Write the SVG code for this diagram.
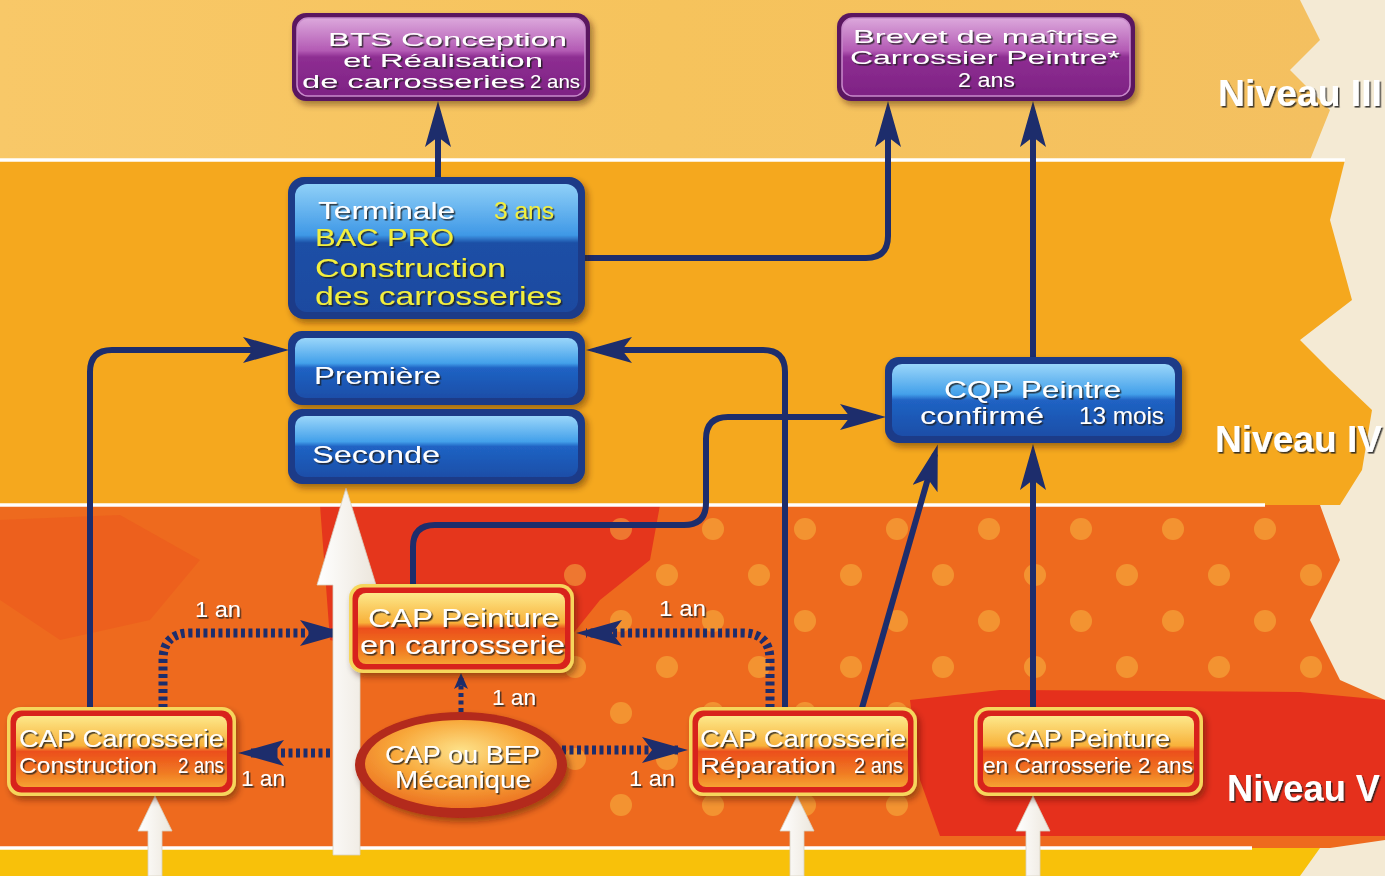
<svg xmlns="http://www.w3.org/2000/svg" width="1385" height="876" viewBox="0 0 1385 876">
<defs>
  <style>
    .t{font-family:"Liberation Sans",Arial,sans-serif;fill:#fff;filter:url(#ts)}
    .y{fill:#f3ef3e}
    .lvl{font-family:"Liberation Sans",Arial,sans-serif;font-weight:bold;fill:#fff;font-size:36px;filter:url(#ts)}
    .ln{fill:none;stroke:#1d2d6c;stroke-width:6;stroke-linecap:butt;stroke-linejoin:round}
    .dt{fill:none;stroke:#1d2d6c;stroke-width:9;stroke-dasharray:4 3.5}
    .wl{stroke:#fff;stroke-width:3.5}
    .wa{fill:url(#gWhite);stroke:#d8d0c0;stroke-width:0.8}
  </style>
  <filter id="ts" x="-10%" y="-30%" width="120%" height="160%">
    <feDropShadow dx="1.5" dy="1.6" stdDeviation="0.7" flood-color="#1a1a1a" flood-opacity="0.85"/>
  </filter>
  <filter id="ds" x="-10%" y="-20%" width="125%" height="150%">
    <feDropShadow dx="3" dy="4" stdDeviation="3" flood-color="#3a1a00" flood-opacity="0.45"/>
  </filter>
  <linearGradient id="gPurple" x1="0" y1="0" x2="0" y2="1">
    <stop offset="0" stop-color="#dca8dc"/>
    <stop offset="0.42" stop-color="#b35ab4"/>
    <stop offset="0.5" stop-color="#8e2e92"/>
    <stop offset="1" stop-color="#7e2284"/>
  </linearGradient>
  <linearGradient id="gBlueT" x1="0" y1="0" x2="0" y2="1">
    <stop offset="0" stop-color="#8fd0f8"/>
    <stop offset="0.4" stop-color="#3f98e6"/>
    <stop offset="0.46" stop-color="#1d4fa6"/>
    <stop offset="1" stop-color="#1b4aa0"/>
  </linearGradient>
  <linearGradient id="gBlue" x1="0" y1="0" x2="0" y2="1">
    <stop offset="0" stop-color="#9ad6fa"/>
    <stop offset="0.42" stop-color="#43a0ea"/>
    <stop offset="0.5" stop-color="#2063c4"/>
    <stop offset="1" stop-color="#1a4ea8"/>
  </linearGradient>
  <linearGradient id="gOr" x1="0" y1="0" x2="0" y2="1">
    <stop offset="0" stop-color="#fde88a"/>
    <stop offset="0.42" stop-color="#f8b13a"/>
    <stop offset="0.5" stop-color="#ec4f1c"/>
    <stop offset="0.8" stop-color="#f07a22"/>
    <stop offset="1" stop-color="#f6a232"/>
  </linearGradient>
  <radialGradient id="gEl" cx="0.5" cy="0.35" r="0.7">
    <stop offset="0" stop-color="#fde28a"/>
    <stop offset="0.5" stop-color="#f8a83a"/>
    <stop offset="1" stop-color="#ea6a1e"/>
  </radialGradient>
  <linearGradient id="gWhite" x1="0" y1="0" x2="1" y2="0">
    <stop offset="0" stop-color="#ffffff"/>
    <stop offset="1" stop-color="#ece6dc"/>
  </linearGradient>
  <linearGradient id="gTop" x1="0" y1="0" x2="1" y2="0">
    <stop offset="0" stop-color="#f8c868"/>
    <stop offset="0.5" stop-color="#f6c35c"/>
    <stop offset="1" stop-color="#f4c060"/>
  </linearGradient>
  <pattern id="dots" patternUnits="userSpaceOnUse" width="92" height="92">
    <circle cx="23" cy="23" r="11" fill="#f8c648"/>
    <circle cx="69" cy="69" r="11" fill="#f8c648"/>
  </pattern>
  <marker id="ah" markerUnits="userSpaceOnUse" markerWidth="46" markerHeight="28" refX="36" refY="13" orient="auto">
    <path d="M0,0 L46,13 L0,26 L10,13 Z" fill="#1d2d6c"/>
  </marker>
  <marker id="ahs" markerUnits="userSpaceOnUse" markerWidth="16" markerHeight="14" refX="12" refY="7" orient="auto">
    <path d="M0,0 L16,7 L0,14 L4,7 Z" fill="#1d2d6c"/>
  </marker>
</defs>

<g id="background">
  <rect x="0" y="0" width="1385" height="876" fill="#f4ead4"/>
  <path d="M0,0 H1300 L1320,40 L1290,70 L1330,110 L1310,160 H0 Z" fill="url(#gTop)"/>
  <path d="M0,160 H1345 L1330,220 L1352,300 L1300,340 L1330,370 L1372,410 L1362,470 L1340,505 H0 Z" fill="#f5a81e"/>
  <path d="M0,505 H1320 L1340,560 L1310,620 L1340,680 L1385,700 V840 L1330,848 H0 Z" fill="#ee6a1e"/>
  <path d="M320,505 H660 L650,560 L600,600 L560,650 L420,660 L330,640 Z" fill="#e5361c"/>
  <path d="M0,520 L120,515 L200,560 L150,620 L60,640 L0,600 Z" fill="#ea4c1c" opacity="0.35"/>
  <path d="M910,700 L1000,690 L1300,692 L1385,700 V836 L940,836 L920,780 Z" fill="#e5301c"/>
  <rect x="560" y="510" width="770" height="180" fill="url(#dots)" opacity="0.45"/>
  <rect x="560" y="690" width="360" height="150" fill="url(#dots)" opacity="0.45"/>
  <rect x="0" y="848" width="1385" height="28" fill="#f8c10a"/>
  <path d="M1320,848 H1385 V876 H1300 Z" fill="#f4ead4"/>
  <line class="wl" x1="0" y1="160" x2="1345" y2="160"/>
  <line class="wl" x1="0" y1="505" x2="1265" y2="505"/>
  <line class="wl" x1="0" y1="848" x2="1252" y2="848"/>
</g>

<g id="connectors">
  <path class="ln" d="M438,178 V111" marker-end="url(#ah)"/>
  <path class="ln" d="M584,258 H866 Q888,258 888,236 V111" marker-end="url(#ah)"/>
  <path class="ln" d="M1033,358 V111" marker-end="url(#ah)"/>
  <path class="ln" d="M90,708 V372 Q90,350 112,350 H279" marker-end="url(#ah)"/>
  <path class="ln" d="M785,708 V372 Q785,350 763,350 H596" marker-end="url(#ah)"/>
  <path class="ln" d="M413,585 V547 Q413,525 435,525 H684 Q706,525 706,503 V439 Q706,417 728,417 H876" marker-end="url(#ah)"/>
  <path class="ln" d="M862,708 L935,454" marker-end="url(#ah)"/>
  <path class="ln" d="M1033,708 V454" marker-end="url(#ah)"/>
  <path class="dt" d="M163,708 V660 Q163,633 190,633 H336" marker-end="url(#ah)"/>
  <path class="dt" d="M770,708 V660 Q770,633 743,633 H586" marker-end="url(#ah)"/>
  <path class="dt" d="M360,753 H248" marker-end="url(#ah)"/>
  <path class="dt" d="M562,750 H678" marker-end="url(#ah)"/>
  <path class="dt" d="M461,712 V677" style="stroke-width:5" marker-end="url(#ahs)"/>
  <polygon class="wa" points="333,855 360,855 360,585 376,585 346,488 317,585 333,585"/>
  <polygon class="wa" points="148,876 162,876 162,831 172,831 155,796 138,831 148,831"/>
  <polygon class="wa" points="790,876 804,876 804,831 814,831 797,796 780,831 790,831"/>
  <polygon class="wa" points="1026,876 1040,876 1040,831 1050,831 1033,796 1016,831 1026,831"/>
  <text class="t" x="195" y="617" font-size="22" textLength="46" lengthAdjust="spacingAndGlyphs">1 an</text>
  <text class="t" x="659" y="616" font-size="22" textLength="47" lengthAdjust="spacingAndGlyphs">1 an</text>
  <text class="t" x="241" y="786" font-size="22" textLength="44" lengthAdjust="spacingAndGlyphs">1 an</text>
  <text class="t" x="629" y="786" font-size="22" textLength="46" lengthAdjust="spacingAndGlyphs">1 an</text>
  <text class="t" x="492" y="705" font-size="22" textLength="44" lengthAdjust="spacingAndGlyphs">1 an</text>
</g>

<g id="n-bts" filter="url(#ds)">
  <rect x="292" y="13" width="298" height="88" rx="14" fill="#5a1660"/>
  <rect x="297" y="18" width="288" height="78" rx="11" fill="url(#gPurple)" stroke="#c98acb" stroke-width="1.5"/>
  <text class="t" x="328" y="46" font-size="19" textLength="239" lengthAdjust="spacingAndGlyphs">BTS Conception</text>
  <text class="t" x="343" y="67" font-size="19" textLength="200" lengthAdjust="spacingAndGlyphs">et Réalisation</text>
  <text class="t" x="302" y="88" font-size="19" textLength="223" lengthAdjust="spacingAndGlyphs">de carrosseries</text>
  <text class="t" x="530" y="88" font-size="19" textLength="50" lengthAdjust="spacingAndGlyphs">2 ans</text>
</g>

<g id="n-brevet" filter="url(#ds)">
  <rect x="837" y="13" width="298" height="88" rx="14" fill="#5a1660"/>
  <rect x="842" y="18" width="288" height="78" rx="11" fill="url(#gPurple)" stroke="#c98acb" stroke-width="1.5"/>
  <text class="t" x="853" y="43" font-size="19" textLength="265" lengthAdjust="spacingAndGlyphs">Brevet de maîtrise</text>
  <text class="t" x="850" y="64" font-size="19" textLength="270" lengthAdjust="spacingAndGlyphs">Carrossier Peintre*</text>
  <text class="t" x="958" y="87" font-size="20" textLength="57" lengthAdjust="spacingAndGlyphs">2 ans</text>
</g>

<g id="n-terminale" filter="url(#ds)">
  <rect x="288" y="177" width="297" height="142" rx="16" fill="#1a3a88"/>
  <rect x="295" y="184" width="283" height="128" rx="12" fill="url(#gBlueT)"/>
  <text class="t" x="318" y="219" font-size="24" textLength="137" lengthAdjust="spacingAndGlyphs">Terminale</text>
  <text class="t y" x="494" y="219" font-size="24" textLength="60" lengthAdjust="spacingAndGlyphs">3 ans</text>
  <text class="t y" x="315" y="246" font-size="24" textLength="139" lengthAdjust="spacingAndGlyphs">BAC PRO</text>
  <text class="t y" x="315" y="277" font-size="26" textLength="191" lengthAdjust="spacingAndGlyphs">Construction</text>
  <text class="t y" x="315" y="305" font-size="26" textLength="247" lengthAdjust="spacingAndGlyphs">des carrosseries</text>
</g>

<g id="n-premiere" filter="url(#ds)">
  <rect x="288" y="331" width="297" height="74" rx="14" fill="#1a3a88"/>
  <rect x="295" y="338" width="283" height="60" rx="10" fill="url(#gBlue)"/>
  <text class="t" x="314" y="384" font-size="24" textLength="127" lengthAdjust="spacingAndGlyphs">Première</text>
</g>

<g id="n-seconde" filter="url(#ds)">
  <rect x="288" y="409" width="297" height="75" rx="14" fill="#1a3a88"/>
  <rect x="295" y="416" width="283" height="61" rx="10" fill="url(#gBlue)"/>
  <text class="t" x="312" y="463" font-size="24" textLength="128" lengthAdjust="spacingAndGlyphs">Seconde</text>
</g>

<g id="n-cqp" filter="url(#ds)">
  <rect x="885" y="357" width="297" height="86" rx="14" fill="#1a3a88"/>
  <rect x="892" y="364" width="283" height="72" rx="10" fill="url(#gBlue)"/>
  <text class="t" x="944" y="398" font-size="24" textLength="177" lengthAdjust="spacingAndGlyphs">CQP Peintre</text>
  <text class="t" x="920" y="424" font-size="24" textLength="124" lengthAdjust="spacingAndGlyphs">confirmé</text>
  <text class="t" x="1079" y="424" font-size="24" textLength="85" lengthAdjust="spacingAndGlyphs">13 mois</text>
</g>

<g id="n-cap-peinture" filter="url(#ds)">
  <rect x="349" y="584" width="225" height="89" rx="14" fill="#f6d65c"/>
  <rect x="352.5" y="587.5" width="218" height="82" rx="11" fill="#d8241c"/>
  <rect x="358" y="593" width="207" height="71" rx="8" fill="url(#gOr)"/>
  <text class="t" x="368" y="627" font-size="25" textLength="191" lengthAdjust="spacingAndGlyphs">CAP Peinture</text>
  <text class="t" x="360" y="654" font-size="25" textLength="205" lengthAdjust="spacingAndGlyphs">en carrosserie</text>
</g>

<g id="n-cap-construction" filter="url(#ds)">
  <rect x="7" y="707" width="229" height="89" rx="14" fill="#f6d65c"/>
  <rect x="10.5" y="710.5" width="222" height="82" rx="11" fill="#d8241c"/>
  <rect x="16" y="716" width="211" height="71" rx="8" fill="url(#gOr)"/>
  <text class="t" x="19" y="747" font-size="23" textLength="205" lengthAdjust="spacingAndGlyphs">CAP Carrosserie</text>
  <text class="t" x="19" y="773" font-size="22" textLength="138" lengthAdjust="spacingAndGlyphs">Construction</text>
  <text class="t" x="178" y="773" font-size="22" textLength="46" lengthAdjust="spacingAndGlyphs">2 ans</text>
</g>

<g id="n-cap-meca" filter="url(#ds)">
  <ellipse cx="461" cy="765" rx="106" ry="53" fill="#b32a1a"/>
  <ellipse cx="461" cy="764" rx="96" ry="44" fill="url(#gEl)"/>
  <text class="t" x="385" y="763" font-size="24" textLength="155" lengthAdjust="spacingAndGlyphs">CAP ou BEP</text>
  <text class="t" x="395" y="788" font-size="24" textLength="136" lengthAdjust="spacingAndGlyphs">Mécanique</text>
</g>

<g id="n-cap-reparation" filter="url(#ds)">
  <rect x="689" y="707" width="228" height="89" rx="14" fill="#f6d65c"/>
  <rect x="692.5" y="710.5" width="221" height="82" rx="11" fill="#d8241c"/>
  <rect x="698" y="716" width="210" height="71" rx="8" fill="url(#gOr)"/>
  <text class="t" x="700" y="747" font-size="23" textLength="206" lengthAdjust="spacingAndGlyphs">CAP Carrosserie</text>
  <text class="t" x="700" y="773" font-size="22" textLength="136" lengthAdjust="spacingAndGlyphs">Réparation</text>
  <text class="t" x="854" y="773" font-size="22" textLength="49" lengthAdjust="spacingAndGlyphs">2 ans</text>
</g>

<g id="n-cap-peinture-2ans" filter="url(#ds)">
  <rect x="974" y="707" width="229" height="89" rx="14" fill="#f6d65c"/>
  <rect x="977.5" y="710.5" width="222" height="82" rx="11" fill="#d8241c"/>
  <rect x="983" y="716" width="211" height="71" rx="8" fill="url(#gOr)"/>
  <text class="t" x="1006" y="747" font-size="23" textLength="164" lengthAdjust="spacingAndGlyphs">CAP Peinture</text>
  <text class="t" x="983" y="773" font-size="22" textLength="210" lengthAdjust="spacingAndGlyphs">en Carrosserie 2 ans</text>
</g>

<g id="levels">
  <text class="lvl" x="1218" y="106" textLength="164" lengthAdjust="spacingAndGlyphs">Niveau III</text>
  <text class="lvl" x="1215" y="452" textLength="167" lengthAdjust="spacingAndGlyphs">Niveau IV</text>
  <text class="lvl" x="1227" y="801" textLength="153" lengthAdjust="spacingAndGlyphs">Niveau V</text>
</g>
</svg>
